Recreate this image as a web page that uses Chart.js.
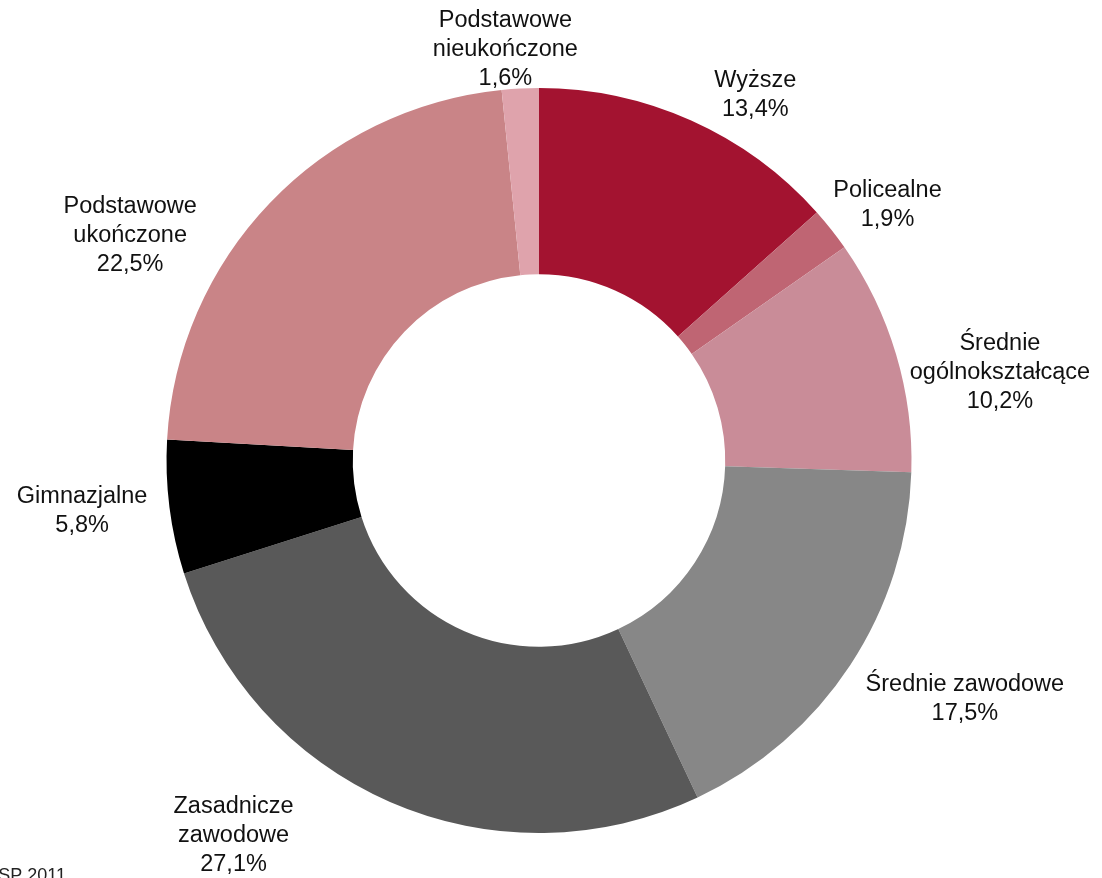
<!DOCTYPE html>
<html>
<head>
<meta charset="utf-8">
<script src="https://cdn.jsdelivr.net/npm/chart.js@4"></script>
<style>
  html, body { margin: 0; padding: 0; background: #fff; }
  #wrap { width: 1102px; height: 878px; }
</style>
</head>
<body>
<div id="wrap"><canvas id="chartWyksztalcenie"></canvas></div>
<script>
// dane wykresu (udział w %)
const kategorie = [
    ['Wyższe'],
    ['Policealne'],
    ['Średnie', 'ogólnokształcące'],
    ['Średnie zawodowe'],
    ['Zasadnicze', 'zawodowe'],
    ['Gimnazjalne'],
    ['Podstawowe', 'ukończone'],
    ['Podstawowe', 'nieukończone']
];
const udzial = [13.4, 1.9, 10.2, 17.5, 27.1, 5.8, 22.5, 1.6];
const kolory = ['#A31330', '#BF6573', '#C98C98', '#878787', '#595959', '#000000', '#C98487', '#DFA3AC'];

// przesunięcie etykiet: [kąt względem środka wycinka w stopniach, odległość jako krotność promienia]
const przesuniecieEtykiet = [
    [6.5, 1.140], [2.1, 1.160], [5.7, 1.260], [-4.0, 1.311],
    [15.6, 1.298], [0.9, 1.234], [-14.9, 1.253], [-1.8, 1.106]
];

const formatProcent = v => v.toFixed(1).replace('.', ',') + '%';

// plugin rysujący etykiety na zewnątrz pierścienia
const etykietyPlugin = {
    id: 'etykiety',
    afterDraw(chart) {
        const ctx = chart.ctx;
        const meta = chart.getDatasetMeta(0);
        ctx.save();
        ctx.font = '23.5px "Liberation Sans", Arial, sans-serif';
        ctx.fillStyle = '#111';
        ctx.textAlign = 'center';
        ctx.textBaseline = 'middle';
        const lh = 29;
        meta.data.forEach((arc, i) => {
            const mid = (arc.startAngle + arc.endAngle) / 2 + przesuniecieEtykiet[i][0] * Math.PI / 180;
            const d = arc.outerRadius * przesuniecieEtykiet[i][1];
            const x = arc.x + Math.cos(mid) * d;
            const y = arc.y + Math.sin(mid) * d;
            const linie = kategorie[i].concat([formatProcent(udzial[i])]);
            const y0 = y - (linie.length - 1) * lh / 2;
            linie.forEach((t, j) => ctx.fillText(t, x, y0 + j * lh));
        });
        // źródło (ucięte przy dolnej krawędzi)
        ctx.font = '18px "Liberation Sans", Arial, sans-serif';
        ctx.textAlign = 'right';
        ctx.textBaseline = 'alphabetic';
        ctx.fillStyle = '#222';
        ctx.fillText('Źródło: NSP 2011', 66, 881);
        ctx.restore();
    }
};

new Chart(document.getElementById('chartWyksztalcenie'), {
    type: 'doughnut',
    data: {
        labels: kategorie.map(k => k.join(' ')),
        datasets: [{
            data: udzial,
            backgroundColor: kolory,
            borderWidth: 0
        }]
    },
    plugins: [etykietyPlugin],
    options: {
        responsive: true,
        maintainAspectRatio: false,
        animation: false,
        cutout: '50%',
        layout: { padding: { top: 88, bottom: 45, left: 0, right: 24 } },
        plugins: {
            legend: { display: false },
            tooltip: { enabled: false }
        }
    }
});
</script>
</body>
</html>
